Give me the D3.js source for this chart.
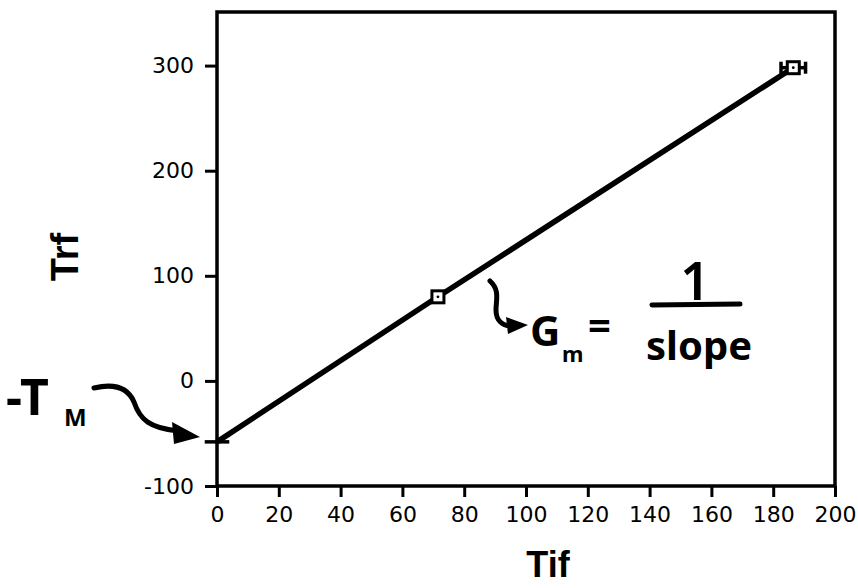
<!DOCTYPE html>
<html>
<head>
<meta charset="utf-8">
<script src="https://cdn.jsdelivr.net/npm/d3@7"></script>
<style>
  body { margin: 0; background: #fff; }
  svg { display: block; }
</style>
</head>
<body>
<script>
// measured points: Tif vs Trf
const tif = [0, 71.5, 186.5];
const trf = [-58, 80, 298];
const tifErr = [3, 1, 3];
const xTicks = [0, 20, 40, 60, 80, 100, 120, 140, 160, 180, 200];
const yTicks = [-100, 0, 100, 200, 300];

const width = 858, height = 588;
const margin = {top: 12, right: 23, bottom: 102, left: 217};

const svg = d3.select("body").append("svg")
    .attr("width", width)
    .attr("height", height);

const x = d3.scaleLinear().domain([0, 200])
    .range([margin.left, width - margin.right]);
const y = d3.scaleLinear().domain([-100, 351])
    .range([height - margin.bottom, margin.top]);

// frame
svg.append("rect")
    .attr("x", x(0)).attr("y", y(351))
    .attr("width", x(200) - x(0)).attr("height", y(-100) - y(351))
    .attr("fill", "none").attr("stroke", "#000").attr("stroke-width", 3.5);

const xAxis = svg.append("g")
    .attr("transform", `translate(0,${y(-100)})`)
    .call(d3.axisBottom(x).tickValues(xTicks).tickSize(11).tickPadding(9)
        .tickFormat(d => String(d)));
const yAxis = svg.append("g")
    .attr("transform", `translate(${x(0)},0)`)
    .call(d3.axisLeft(y).tickValues(yTicks).tickSize(12).tickPadding(11)
        .tickFormat(d => String(d)));

[xAxis, yAxis].forEach(g => {
    g.select(".domain").remove();
    g.selectAll(".tick line").attr("stroke-width", 3);
    g.selectAll(".tick text")
        .style("font-family", "'DejaVu Sans', sans-serif")
        .style("font-size", "22px")
        .attr("fill", "#000");
});

// axis titles
svg.append("text")
    .attr("x", 548).attr("y", 577)
    .attr("text-anchor", "middle")
    .attr("font-family", "Liberation Sans, Arial, sans-serif")
    .attr("font-weight", "bold").attr("font-size", 36)
    .text("Tif");
svg.append("text")
    .attr("transform", "translate(78,257) rotate(-90)")
    .attr("text-anchor", "middle")
    .attr("font-family", "Liberation Sans, Arial, sans-serif")
    .attr("font-weight", "bold").attr("font-size", 38)
    .text("Trf");

const pts = tif.map((v, i) => ({x: v, y: trf[i], e: tifErr[i]}));

// line through the points
svg.append("path")
    .datum(pts)
    .attr("fill", "none")
    .attr("stroke", "#000")
    .attr("stroke-width", 5.5)
    .attr("d", d3.line().x(d => x(d.x)).y(d => y(d.y)));

// horizontal error bars
const eb = svg.append("g").attr("stroke", "#000").attr("stroke-width", 3.5);
eb.selectAll("line.bar").data(pts).enter().append("line")
    .attr("x1", d => x(d.x - d.e) - 3).attr("x2", d => x(d.x + d.e) + 3)
    .attr("y1", d => y(d.y)).attr("y2", d => y(d.y));
eb.selectAll("line.capl").data(pts.slice(2)).enter().append("line")
    .attr("x1", d => x(d.x - d.e) - 3).attr("x2", d => x(d.x - d.e) - 3)
    .attr("y1", d => y(d.y) - 6).attr("y2", d => y(d.y) + 6);
eb.selectAll("line.capr").data(pts.slice(2)).enter().append("line")
    .attr("x1", d => x(d.x + d.e) + 3).attr("x2", d => x(d.x + d.e) + 3)
    .attr("y1", d => y(d.y) - 6).attr("y2", d => y(d.y) + 6);

// square markers
svg.selectAll("rect.pt")
    .data(pts.slice(1))
    .enter().append("rect")
    .attr("class", "pt")
    .attr("x", d => x(d.x) - 6).attr("y", d => y(d.y) - 6)
    .attr("width", 12).attr("height", 12)
    .attr("fill", "#fff").attr("stroke", "#000").attr("stroke-width", 3);
svg.selectAll("circle.pt")
    .data(pts.slice(1))
    .enter().append("circle")
    .attr("cx", d => x(d.x)).attr("cy", d => y(d.y)).attr("r", 1.4)
    .attr("fill", "#000");

// annotations
const note = svg.append("g")
    .attr("font-family", "Noto Sans, sans-serif")
    .attr("font-weight", "bold")
    .attr("fill", "#000");

const arrow = (d, tip) => {
    svg.append("path").attr("d", d)
        .attr("fill", "none").attr("stroke", "#000")
        .attr("stroke-width", 5).attr("stroke-linecap", "round");
    svg.append("path").attr("d", tip).attr("fill", "#000");
};

// -T_M
note.append("text").attr("x", 6).attr("y", 415).attr("font-size", 50).text("-T");
note.append("text").attr("x", 64).attr("y", 426).attr("font-size", 24).text("M");
arrow("M94,388 C115,383 128,388 134,402 C140,420 150,428 178,431",
      "M172,422 L200,437 L174,444 Z");

// G_m = 1/slope
arrow("M490,281 C500,290 496,300 496,310 C496,320 502,326 512,326",
      "M506,317 L528,325 L508,334 Z");
note.append("text").attr("x", 530).attr("y", 346).attr("font-size", 42).text("G");
note.append("text").attr("x", 562).attr("y", 362).attr("font-size", 22).text("m");
note.append("text").attr("x", 588).attr("y", 340).attr("font-size", 40).text("=");
note.append("text").attr("x", 695).attr("y", 300).attr("font-size", 52)
    .attr("text-anchor", "middle").attr("font-weight", 600).text("1");
svg.append("line").attr("x1", 652).attr("x2", 740).attr("y1", 305).attr("y2", 304)
    .attr("stroke", "#000").attr("stroke-width", 5).attr("stroke-linecap", "round");
note.append("text").attr("x", 699).attr("y", 360).attr("font-size", 40)
    .attr("text-anchor", "middle").text("slope");
</script>
</body>
</html>
